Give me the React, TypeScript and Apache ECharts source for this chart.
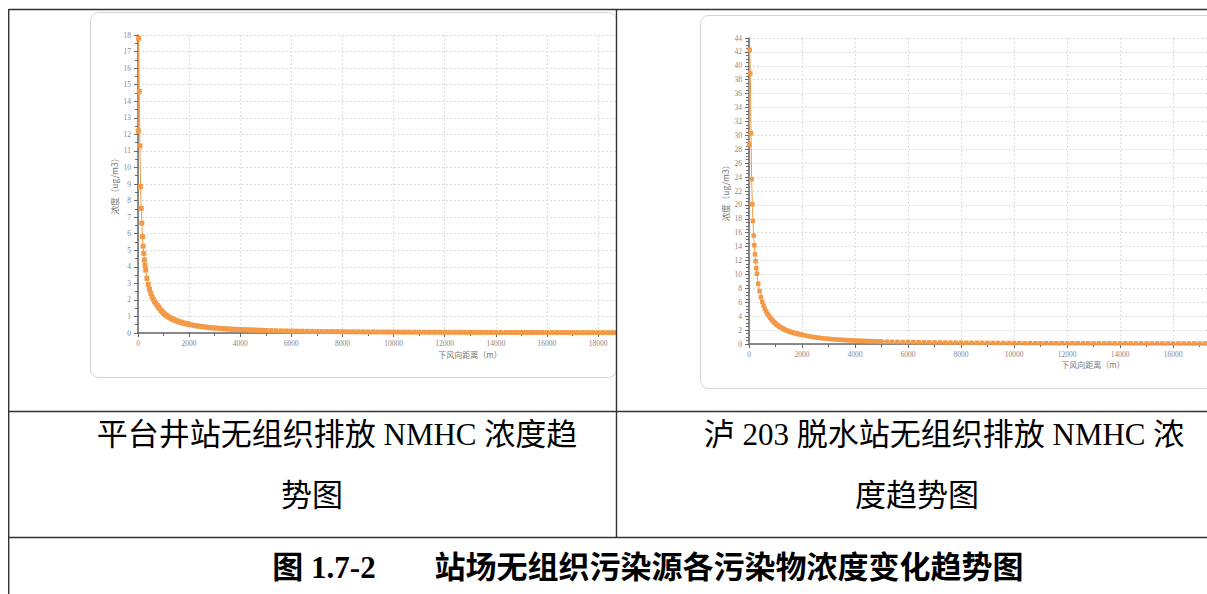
import React, { useEffect, useRef } from "react";
import * as echarts from "echarts";

// 平台井站 NMHC: [下风向距离 m, 浓度 ug/m3]
const platformWell: [number, number][] = [
  [10, 12.2], [25, 17.8], [50, 14.6], [75, 11.3], [100, 8.84], [125, 7.53], [150, 6.64], [175, 5.82],
  [200, 5.25], [225, 4.81], [250, 4.41], [275, 4.08], [300, 3.8],
  [350, 3.3], [400, 2.93], [450, 2.64], [500, 2.4], [550, 2.2], [600, 2.04], [650, 1.89], [700, 1.77],
  [750, 1.67], [800, 1.57], [850, 1.46], [900, 1.36], [950, 1.28], [1000, 1.2], [1050, 1.13], [1100, 1.07],
  [1150, 1.02], [1200, 0.97], [1250, 0.92], [1300, 0.88], [1350, 0.84], [1400, 0.8], [1450, 0.77],
  [1500, 0.74], [1550, 0.71], [1600, 0.68], [1650, 0.66], [1700, 0.64], [1750, 0.61], [1800, 0.59],
  [1850, 0.57], [1900, 0.56], [1950, 0.54], [2000, 0.52],
  [2100, 0.487], [2200, 0.457], [2300, 0.431], [2400, 0.407], [2500, 0.385], [2600, 0.365], [2700, 0.347],
  [2800, 0.33], [2900, 0.315], [3000, 0.301], [3100, 0.288], [3200, 0.276], [3300, 0.264], [3400, 0.254],
  [3500, 0.244], [3600, 0.235], [3700, 0.227], [3800, 0.219], [3900, 0.211], [4000, 0.204], [4100, 0.197],
  [4200, 0.191], [4300, 0.185], [4400, 0.179], [4500, 0.174], [4600, 0.169], [4700, 0.164], [4800, 0.159],
  [4900, 0.155], [5000, 0.151],
  [5200, 0.142], [5400, 0.135], [5600, 0.128], [5800, 0.122], [6000, 0.116], [6200, 0.111], [6400, 0.106],
  [6600, 0.101], [6800, 0.097], [7000, 0.093], [7200, 0.089], [7400, 0.086], [7600, 0.083], [7800, 0.08],
  [8000, 0.077], [8200, 0.074], [8400, 0.072], [8600, 0.069], [8800, 0.067], [9000, 0.065],
  [9200, 0.063], [9400, 0.061], [9600, 0.059], [9800, 0.057], [10000, 0.056], [10200, 0.054], [10400, 0.053],
  [10600, 0.051], [10800, 0.05], [11000, 0.049], [11200, 0.047], [11400, 0.046], [11600, 0.045], [11800, 0.044],
  [12000, 0.043], [12200, 0.042], [12400, 0.041], [12600, 0.04], [12800, 0.039], [13000, 0.038],
  [13200, 0.037], [13400, 0.037], [13600, 0.036], [13800, 0.035], [14000, 0.034], [14200, 0.034], [14400, 0.033],
  [14600, 0.032], [14800, 0.032], [15000, 0.031], [15200, 0.03], [15400, 0.03], [15600, 0.029], [15800, 0.029],
  [16000, 0.028], [16200, 0.028], [16400, 0.027], [16600, 0.027], [16800, 0.026], [17000, 0.026], [17200, 0.025],
  [17400, 0.025], [17600, 0.024], [17800, 0.024], [18000, 0.024], [18200, 0.023], [18400, 0.023], [18600, 0.022],
];

// 泸203脱水站 NMHC: [下风向距离 m, 浓度 ug/m3]
const luStation: [number, number][] = [
  [10, 28.7], [25, 42.3], [50, 38.9], [75, 30.3], [100, 23.7], [125, 20.1], [150, 17.7], [175, 15.6],
  [200, 14.2], [225, 12.9], [250, 11.9], [275, 10.9], [300, 10.1],
  [350, 8.66], [400, 7.58], [450, 6.73], [500, 6.06], [550, 5.51], [600, 5.05], [650, 4.66], [700, 4.33],
  [750, 4.04], [800, 3.79], [850, 3.53], [900, 3.31], [950, 3.11], [1000, 2.93], [1050, 2.77], [1100, 2.63],
  [1150, 2.5], [1200, 2.38], [1250, 2.27], [1300, 2.17], [1350, 2.08], [1400, 1.99], [1450, 1.91],
  [1500, 1.84], [1550, 1.77], [1600, 1.71], [1650, 1.65], [1700, 1.59], [1750, 1.54], [1800, 1.49],
  [1850, 1.45], [1900, 1.4], [1950, 1.36], [2000, 1.32],
  [2100, 1.23], [2200, 1.15], [2300, 1.08], [2400, 1.02], [2500, 0.962], [2600, 0.909], [2700, 0.862],
  [2800, 0.819], [2900, 0.779], [3000, 0.742], [3100, 0.708], [3200, 0.677], [3300, 0.648], [3400, 0.621],
  [3500, 0.596], [3600, 0.573], [3700, 0.551], [3800, 0.53], [3900, 0.511], [4000, 0.493], [4100, 0.476],
  [4200, 0.46], [4300, 0.445], [4400, 0.431], [4500, 0.417], [4600, 0.404], [4700, 0.392], [4800, 0.381],
  [4900, 0.37], [5000, 0.359],
  [5200, 0.34], [5400, 0.323], [5600, 0.308], [5800, 0.294], [6000, 0.281], [6200, 0.269], [6400, 0.258],
  [6600, 0.247], [6800, 0.237], [7000, 0.228], [7200, 0.22], [7400, 0.212], [7600, 0.204], [7800, 0.197],
  [8000, 0.19], [8200, 0.184], [8400, 0.178], [8600, 0.172], [8800, 0.167], [9000, 0.162], [9200, 0.157],
  [9400, 0.153], [9600, 0.148], [9800, 0.144], [10000, 0.14], [10200, 0.137], [10400, 0.133], [10600, 0.13],
  [10800, 0.127], [11000, 0.124], [11200, 0.121], [11400, 0.118], [11600, 0.115], [11800, 0.113],
  [12000, 0.11], [12200, 0.108], [12400, 0.106], [12600, 0.104], [12800, 0.102], [13000, 0.1], [13200, 0.098],
  [13400, 0.096], [13600, 0.094], [13800, 0.092], [14000, 0.091], [14200, 0.089], [14400, 0.088],
  [14600, 0.086], [14800, 0.085], [15000, 0.083], [15200, 0.082], [15400, 0.081], [15600, 0.079],
  [15800, 0.078], [16000, 0.077], [16200, 0.076], [16400, 0.075], [16600, 0.074], [16800, 0.073],
  [17000, 0.072], [17200, 0.071], [17400, 0.07],
];

const yAxisName = "浓度（ug/m3）";
const xAxisName = "下风向距离（m）";
const leftCaption1 = "平台井站无组织排放 NMHC 浓度趋";
const leftCaption2 = "势图";
const rightCaption1 = "泸 203 脱水站无组织排放 NMHC 浓";
const rightCaption2 = "度趋势图";
const figNo = "图 1.7-2";
const figTitle = "站场无组织污染源各污染物浓度变化趋势图";

const ORANGE = "#F39A48";
const AXIS = "#666";
const LABEL = "#888";
const CAP_FONT = "'Liberation Serif', 'Noto Sans CJK SC', serif";

function xAxisCfg(gridIndex: number, max: number) {
  return {
    type: "value",
    gridIndex,
    min: 0,
    max,
    interval: 2000,
    axisLine: { show: true, onZero: false, lineStyle: { color: AXIS, width: 1.5 } },
    axisTick: { show: true, length: 4, lineStyle: { color: AXIS } },
    minorTick: { show: true, splitNumber: 2, length: 3, lineStyle: { color: AXIS } },
    axisLabel: {
      fontSize: 7.5,
      color: LABEL,
      margin: 6,
      showMaxLabel: false,
      fontFamily: "'Liberation Serif', serif",
      formatter: (v: number) => String(v),
    },
    splitLine: { show: true, lineStyle: { color: "#dcdcdc", type: [2, 2], width: 1 } },
  };
}

function yAxisCfg(gridIndex: number, max: number, interval: number, minorSplit: number) {
  return {
    type: "value",
    gridIndex,
    min: 0,
    max,
    interval,
    name: yAxisName,
    nameLocation: "middle",
    nameGap: 20,
    nameTextStyle: { fontSize: 8.5, color: "#777", fontFamily: "'Noto Sans CJK SC'" },
    axisLine: { show: true, onZero: false, lineStyle: { color: AXIS, width: 1.5 } },
    axisTick: { show: true, length: 4, lineStyle: { color: AXIS } },
    minorTick: { show: true, splitNumber: minorSplit, length: 3, lineStyle: { color: AXIS } },
    axisLabel: {
      fontSize: 7.5,
      color: LABEL,
      margin: 7,
      fontFamily: "'Liberation Serif', serif",
      formatter: (v: number) => String(v),
    },
    splitLine: { show: true, lineStyle: { color: "#dcdcdc", type: [2, 2], width: 1 } },
  };
}

function seriesCfg(idx: number, data: [number, number][], size: number) {
  return {
    type: "line",
    xAxisIndex: idx,
    yAxisIndex: idx,
    data,
    symbol: "rect",
    symbolSize: size,
    showAllSymbol: true,
    clip: true,
    itemStyle: { color: ORANGE, borderWidth: 0 },
    lineStyle: { color: ORANGE, width: 1 },
    z: 3,
  };
}

function tline(x1: number, y1: number, x2: number, y2: number) {
  return {
    type: "line",
    z: 100,
    shape: { x1, y1, x2, y2 },
    style: { stroke: "#333", lineWidth: 1.4 },
  };
}

function txt(text: string, x: number, y: number, size: number, bold = false, font = CAP_FONT, color = "#000") {
  return {
    type: "text",
    z: 100,
    x,
    y,
    style: {
      text,
      fontSize: size,
      fontFamily: font,
      fontWeight: bold ? "bold" : "normal",
      fill: color,
      align: "center",
      verticalAlign: "middle",
    },
  };
}

export default function App() {
  const ref = useRef<HTMLDivElement>(null);

  useEffect(() => {
    if (!ref.current) return;
    const chart = echarts.init(ref.current, undefined, { renderer: "svg" });
    chart.setOption({
      animation: false,
      backgroundColor: "#fff",
      grid: [
        { left: 138, top: 35, width: 478, height: 298 },
        { left: 749, top: 38, width: 458, height: 306 },
      ],
      xAxis: [xAxisCfg(0, 18700), xAxisCfg(1, 17280)],
      yAxis: [yAxisCfg(0, 18, 1, 2), yAxisCfg(1, 44, 2, 4)],
      series: [seriesCfg(0, platformWell, 5), seriesCfg(1, luStation, 4.5)],
      graphic: [
        {
          type: "rect",
          z: -10,
          shape: { x: 90.5, y: 12.5, width: 526, height: 365, r: 8 },
          style: { fill: "#fff", stroke: "#d4d4d4", lineWidth: 1 },
        },
        {
          type: "rect",
          z: -10,
          shape: { x: 700.5, y: 15.5, width: 560, height: 373, r: 8 },
          style: { fill: "#fff", stroke: "#d4d4d4", lineWidth: 1 },
        },
        txt(xAxisName, 470, 354, 8, false, "'Noto Sans CJK SC'", "#777"),
        txt(xAxisName, 1093, 364, 8, false, "'Noto Sans CJK SC'", "#777"),
        tline(8.7, 9.5, 1207, 9.5),
        tline(8.7, 9, 8.7, 594),
        tline(616.5, 9, 616.5, 538),
        tline(8.7, 411.5, 1207, 411.5),
        tline(8.7, 537.5, 1207, 537.5),
        txt(leftCaption1, 337, 434, 31),
        txt(leftCaption2, 312, 495, 31),
        txt(rightCaption1, 944, 434, 31),
        txt(rightCaption2, 917, 495, 31),
        txt(figNo, 324, 567, 31, true),
        txt(figTitle, 729, 567, 31, true),
      ],
    });
    return () => chart.dispose();
  }, []);

  return (
    <div
      ref={ref}
      style={{ position: "absolute", left: 0, top: 0, width: 1207, height: 594, background: "#fff" }}
    />
  );
}
